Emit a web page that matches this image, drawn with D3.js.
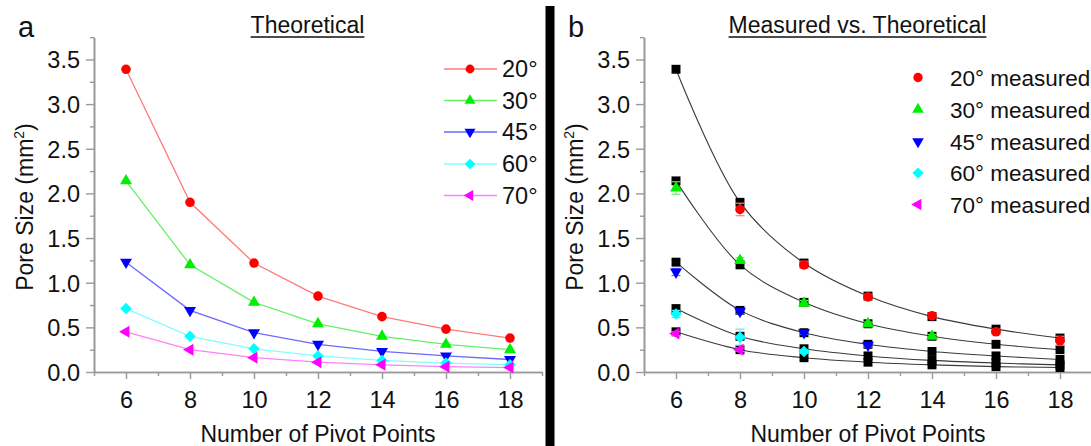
<!DOCTYPE html>
<html><head><meta charset="utf-8">
<script src="https://cdn.jsdelivr.net/npm/d3@7"></script>
<style>
html,body{margin:0;padding:0;background:#fff;}
svg{display:block;font-family:"Liberation Sans",Arial,sans-serif;}
</style></head>
<body>
<svg id="chart" width="1091" height="446"></svg>
<script>
// ---------- data ----------
const pivotPoints = [6, 8, 10, 12, 14, 16, 18];
const xMajorTicks = [6, 8, 10, 12, 14, 16, 18];
const xMinorTicks = [5, 7, 9, 11, 13, 15, 17, 19];
const yMajorTicks = [0, 0.5, 1.0, 1.5, 2.0, 2.5, 3.0, 3.5];
const yMinorTicks = [0.25, 0.75, 1.25, 1.75, 2.25, 2.75, 3.25, 3.75];
const angleLabels = ["20", "30", "45", "60", "70"];

const theo20 = [3.39, 1.90, 1.22, 0.85, 0.62, 0.48, 0.38];
const theo30 = [2.14, 1.20, 0.78, 0.54, 0.40, 0.31, 0.25];
const theo45 = [1.23, 0.69, 0.44, 0.31, 0.23, 0.18, 0.14];
const theo60 = [0.71, 0.40, 0.26, 0.18, 0.13, 0.10, 0.08];
const theo70 = [0.45, 0.25, 0.16, 0.11, 0.08, 0.06, 0.05];

const meas20 = [null, 1.82, 1.20, 0.84, 0.63, 0.45, 0.35];
const err20  = [null, 0.07, 0.04, 0.03, 0.02, 0.03, 0.05];
const meas30 = [2.06, 1.25, 0.77, 0.54, 0.40, null, null];
const err30  = [0.07, 0.03, 0.03, 0.02, 0.02, null, null];
const meas45 = [1.12, 0.68, 0.44, 0.30, null, null, null];
const err45  = [0.04, 0.03, 0.02, 0.02, null, null, null];
const meas60 = [0.65, 0.39, 0.23, null, null, null, null];
const err60  = [0.04, 0.09, 0.02, null, null, null, null];
const meas70 = [0.43, 0.25, null, null, null, null, null];
const err70  = [0.02, 0.02, null, null, null, null, null];

const theoSeries = [theo20, theo30, theo45, theo60, theo70];
const measSeries = [meas20, meas30, meas45, meas60, meas70];
const errSeries  = [err20, err30, err45, err60, err70];

// ---------- styles ----------
const markerColors = ["#ff0000", "#00ee00", "#0000ff", "#00ffff", "#ff00ff"];
const lineColors   = ["#ff7a7a", "#66f066", "#6a6aff", "#80ffff", "#ff80ff"];
const errColors    = ["#ff8080", "#66f066", "#6a6aff", "#66e8e8", "#ff80ff"];
const symbols = [
  {type: d3.symbolCircle, size: 72, rot: 0},
  {type: d3.symbolTriangle, size: 62, rot: 0},
  {type: d3.symbolTriangle, size: 62, rot: 180},
  {type: d3.symbolSquare, size: 66, rot: 45},
  {type: d3.symbolTriangle, size: 62, rot: -90}
];
const axisColor = "#9a9a9a";

const svg = d3.select("#chart");
const FONT = "'Liberation Sans',Arial,sans-serif";

function symbolPath(i, scale) {
  const s = symbols[i];
  return d3.symbol().type(s.type).size(s.size * (scale || 1))();
}

function drawPanel(ox, opts) {
  const x = d3.scaleLinear().domain([5, 19]).range([ox, ox + 448]);
  const y = d3.scaleLinear().domain([0, 3.75]).range([372, 372 - 3.75 * 89.3]);
  const g = svg.append("g");

  const xMinor = d3.axisBottom(x).tickValues(xMinorTicks).tickSize(4).tickSizeOuter(0).tickFormat("");
  const yMinor = d3.axisLeft(y).tickValues(yMinorTicks).tickSize(4).tickSizeOuter(0).tickFormat("");
  const xMajor = d3.axisBottom(x).tickValues(xMajorTicks).tickSize(7).tickSizeOuter(0).tickPadding(8).tickFormat(d3.format("d"));
  const yMajor = d3.axisLeft(y).tickValues(yMajorTicks).tickSize(8).tickSizeOuter(0).tickPadding(6).tickFormat(d3.format(".1f"));

  const gx1 = g.append("g").attr("transform", `translate(0,${y(0)})`).call(xMinor);
  const gy1 = g.append("g").attr("transform", `translate(${x(5)},0)`).call(yMinor);
  const gx2 = g.append("g").attr("transform", `translate(0,${y(0)})`).call(xMajor);
  const gy2 = g.append("g").attr("transform", `translate(${x(5)},0)`).call(yMajor);
  [gx1, gy1, gx2, gy2].forEach(a => {
    a.selectAll("path.domain").attr("stroke", axisColor).attr("stroke-width", 1.6);
    a.selectAll(".tick line").attr("stroke", axisColor).attr("stroke-width", 1.4);
  });
  gx2.selectAll(".tick text").attr("font-size", 23.5).attr("font-family", FONT).attr("fill", "#111").attr("dy", "0.9em");
  gy2.selectAll(".tick text").attr("font-size", 23.5).attr("font-family", FONT).attr("fill", "#111").attr("dy", "0.36em");

  g.append("text").attr("x", ox + 224).attr("y", 442).attr("text-anchor", "middle")
    .attr("font-size", 23).attr("fill", "#111").text("Number of Pivot Points");
  const yt = g.append("text").attr("transform", `translate(${ox - 69},207) rotate(-90)`)
    .attr("text-anchor", "middle").attr("dy", "0.36em").attr("font-size", 23).attr("fill", "#111");
  yt.append("tspan").text("Pore Size (mm");
  yt.append("tspan").attr("font-size", 14).attr("dy", -9).text("2");
  yt.append("tspan").attr("dy", 9).text(")");

  g.append("text").attr("x", ox - 76).attr("y", 37).attr("font-size", 29).attr("fill", "#111").text(opts.letter);

  const tt = g.append("text").attr("x", ox + 213.5).attr("y", 33).attr("text-anchor", "middle")
    .attr("font-size", 23).attr("fill", "#111").text(opts.title);
  const bb = tt.node().getBBox();
  g.append("line").attr("x1", bb.x).attr("x2", bb.x + bb.width).attr("y1", 37).attr("y2", 37)
    .attr("stroke", "#111").attr("stroke-width", 1.6);

  return {g, x, y};
}

// ---------- panel a ----------
const A = drawPanel(94, {letter: "a", title: "Theoretical"});
theoSeries.forEach((vals, i) => {
  const pts = pivotPoints.map((p, j) => [p, vals[j]]);
  A.g.append("path").datum(pts)
    .attr("d", d3.line().x(d => A.x(d[0])).y(d => A.y(d[1])))
    .attr("fill", "none").attr("stroke", lineColors[i]).attr("stroke-width", 1.3);
});
theoSeries.forEach((vals, i) => {
  A.g.selectAll(null).data(pivotPoints.map((p, j) => [p, vals[j]])).enter().append("path")
    .attr("d", symbolPath(i))
    .attr("transform", d => `translate(${A.x(d[0])},${A.y(d[1])}) rotate(${symbols[i].rot})`)
    .attr("fill", markerColors[i]);
});
const legAy = [69, 100.5, 132, 164, 195.5];
angleLabels.forEach((lab, i) => {
  const ly = legAy[i];
  A.g.append("line").attr("x1", 444).attr("x2", 497).attr("y1", ly).attr("y2", ly)
    .attr("stroke", lineColors[i]).attr("stroke-width", 1.3);
  A.g.append("path").attr("d", symbolPath(i, 0.85))
    .attr("transform", `translate(470,${ly}) rotate(${symbols[i].rot})`).attr("fill", markerColors[i]);
  A.g.append("text").attr("x", 502).attr("y", ly).attr("dy", "0.36em").attr("font-size", 23.5)
    .attr("fill", "#111").text(lab + "°");
});

// ---------- divider ----------
svg.append("rect").attr("x", 545.5).attr("y", 6).attr("width", 9).attr("height", 440).attr("fill", "#000");

// ---------- panel b ----------
const B = drawPanel(644, {letter: "b", title: "Measured vs. Theoretical"});
theoSeries.forEach((vals) => {
  const pts = pivotPoints.map((p, j) => [p, vals[j]]);
  B.g.append("path").datum(pts)
    .attr("d", d3.line().curve(d3.curveCatmullRom).x(d => B.x(d[0])).y(d => B.y(d[1])))
    .attr("fill", "none").attr("stroke", "#3a3a3a").attr("stroke-width", 1.1);
});
theoSeries.forEach((vals) => {
  B.g.selectAll(null).data(pivotPoints.map((p, j) => [p, vals[j]])).enter().append("path")
    .attr("d", d3.symbol().type(d3.symbolSquare).size(80)())
    .attr("transform", d => `translate(${B.x(d[0])},${B.y(d[1])})`)
    .attr("fill", "#000");
});
measSeries.forEach((vals, i) => {
  const pts = pivotPoints.map((p, j) => ({p, v: vals[j], e: errSeries[i][j]})).filter(d => d.v !== null);
  const eg = B.g.append("g").attr("stroke", errColors[i]).attr("stroke-width", 1.2);
  pts.forEach(d => {
    const cx = B.x(d.p), y1 = B.y(d.v - d.e), y2 = B.y(d.v + d.e);
    eg.append("line").attr("x1", cx).attr("x2", cx).attr("y1", y1).attr("y2", y2);
    eg.append("line").attr("x1", cx - 4.5).attr("x2", cx + 4.5).attr("y1", y1).attr("y2", y1);
    eg.append("line").attr("x1", cx - 4.5).attr("x2", cx + 4.5).attr("y1", y2).attr("y2", y2);
  });
  B.g.selectAll(null).data(pts).enter().append("path")
    .attr("d", symbolPath(i))
    .attr("transform", d => `translate(${B.x(d.p)},${B.y(d.v)}) rotate(${symbols[i].rot})`)
    .attr("fill", markerColors[i]);
});
const legBy = [77.5, 109.5, 141.5, 173, 204.5];
angleLabels.forEach((lab, i) => {
  const ly = legBy[i];
  B.g.append("path").attr("d", symbolPath(i, 0.95))
    .attr("transform", `translate(918,${ly}) rotate(${symbols[i].rot})`).attr("fill", markerColors[i]);
  B.g.append("text").attr("x", 950).attr("y", ly).attr("dy", "0.36em").attr("font-size", 22.5)
    .attr("fill", "#111").text(lab + "° measured");
});
</script>
</body></html>
